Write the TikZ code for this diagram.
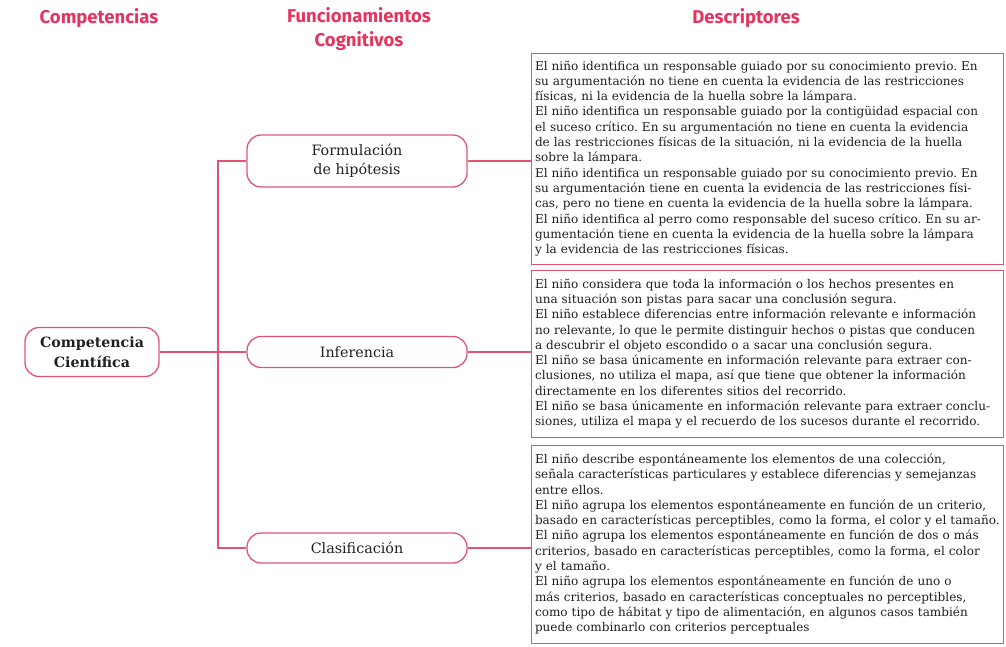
\documentclass[tikz,border=0pt]{standalone}
\usepackage{fontspec}
\setmainfont{DejaVu Serif}
\newfontfamily\titulofont{Fira Sans}
\frenchspacing
\definecolor{rosa}{RGB}{228,52,96}
\definecolor{rosalinea}{RGB}{226,84,114}
\definecolor{tinta}{RGB}{35,31,32}

\begin{document}
\begin{tikzpicture}[x=1pt,y=1pt,
   titulo/.style={text=rosa,font=\titulofont\bfseries\fontsize{18.5}{24}\selectfont,align=center},
   competencia/.style={draw=rosalinea,line width=1.3pt,rounded corners=14pt,align=center,text=tinta,
      font=\bfseries\fontsize{14.2}{20}\selectfont,minimum width=134pt,minimum height=49pt,inner sep=0pt},
   funcion/.style={draw=rosalinea,line width=1.3pt,rounded corners=14pt,align=center,text=tinta,
      font=\fontsize{14.3}{19}\selectfont,minimum width=220pt,inner sep=0pt},
   descriptor/.style={draw=rosalinea,line width=0.9pt,text width=465pt,inner xsep=3.5pt,inner ysep=0pt,
      align=left,text=tinta,font=\fontsize{12.05}{15.3}\selectfont},
   linea/.style={draw=rosalinea,line width=1.1pt}]

   \useasboundingbox (0,0) rectangle (1006,646);

   % Titulos de las columnas
   \node[titulo] (tcomp) at (99,628) {Competencias};
   \node[titulo] (tfunc) at (359,617) {Funcionamientos\\Cognitivos};
   \node[titulo] (tdesc) at (746,628) {Descriptores};

   \node[competencia] (comp) at (92,294) {Competencia\\Científica};
   \node[funcion,minimum height=52pt] (form) at (357,485) {Formulación\\de hipótesis};
   \node[funcion,minimum height=31pt] (inf) at (357,294) {Inferencia};
   \node[funcion,minimum height=30pt] (clas) at (357,98) {Clasificación};

   \node[descriptor,minimum height=211pt] (d1) at (767.5,487.5) {El niño identifica un responsable guiado por su conocimiento previo. En\\
su argumentación no tiene en cuenta la evidencia de las restricciones\\
físicas, ni la evidencia de la huella sobre la lámpara.\\
El niño identifica un responsable guiado por la contigüidad espacial con\\
el suceso crítico. En su argumentación no tiene en cuenta la evidencia\\
de las restricciones físicas de la situación, ni la evidencia de la huella\\
sobre la lámpara.\\
El niño identifica un responsable guiado por su conocimiento previo. En\\
su argumentación tiene en cuenta la evidencia de las restricciones físi-\\
cas, pero no tiene en cuenta la evidencia de la huella sobre la lámpara.\\
El niño identifica al perro como responsable del suceso crítico. En su ar-\\
gumentación tiene en cuenta la evidencia de la huella sobre la lámpara\\
y la evidencia de las restricciones físicas.};

   \node[descriptor,minimum height=167pt] (d2) at (767.5,292.5) {El niño considera que toda la información o los hechos presentes en\\
una situación son pistas para sacar una conclusión segura.\\
El niño establece diferencias entre información relevante e información\\
no relevante, lo que le permite distinguir hechos o pistas que conducen\\
a descubrir el objeto escondido o a sacar una conclusión segura.\\
El niño se basa únicamente en información relevante para extraer con-\\
clusiones, no utiliza el mapa, así que tiene que obtener la información\\
directamente en los diferentes sitios del recorrido.\\
El niño se basa únicamente en información relevante para extraer conclu-\\
siones, utiliza el mapa y el recuerdo de los sucesos durante el recorrido.};

   \node[descriptor,minimum height=198pt] (d3) at (767.5,102) {El niño describe espontáneamente los elementos de una colección,\\
señala características particulares y establece diferencias y semejanzas\\
entre ellos.\\
El niño agrupa los elementos espontáneamente en función de un criterio,\\
basado en características perceptibles, como la forma, el color y el tamaño.\\
El niño agrupa los elementos espontáneamente en función de dos o más\\
criterios, basado en características perceptibles, como la forma, el color\\
y el tamaño.\\
El niño agrupa los elementos espontáneamente en función de uno o\\
más criterios, basado en características conceptuales no perceptibles,\\
como tipo de hábitat y tipo de alimentación, en algunos casos también\\
puede combinarlo con criterios perceptuales};

   % Conexiones
   \coordinate (tronco) at (218,0);
   \draw[linea] (comp.east) -- (inf.west);
   \draw[linea] (form.west) -- (form.west -| tronco) -- (clas.west -| tronco) -- (clas.west);
   \draw[linea] (form.east) -- (form.east -| d1.west);
   \draw[linea] (inf.east) -- (inf.east -| d2.west);
   \draw[linea] (clas.east) -- (clas.east -| d3.west);
\end{tikzpicture}
\end{document}
